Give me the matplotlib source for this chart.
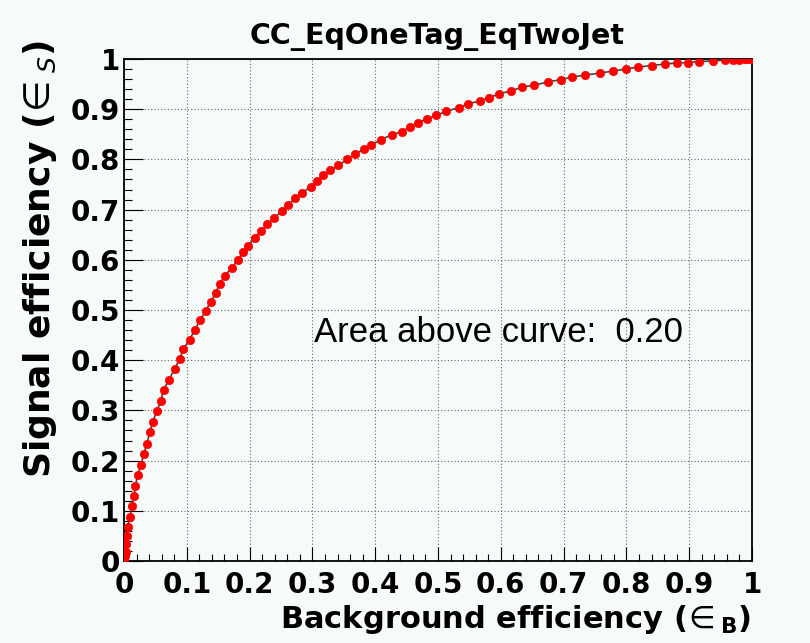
import numpy as np
import matplotlib
matplotlib.use("Agg")
import matplotlib.pyplot as plt
from matplotlib.ticker import MultipleLocator, FuncFormatter

# ROC curve points for the CC_EqOneTag_EqTwoJet category
bkg_eff = [0.000, 0.0016, 0.0027, 0.0037, 0.0043, 0.0059, 0.0095, 0.0127, 0.0159, 0.0180,
           0.0218, 0.0270, 0.0313, 0.0366, 0.0409, 0.0456, 0.0525, 0.0583, 0.0631, 0.0718,
           0.0806, 0.0886, 0.0943, 0.1045, 0.1124, 0.1213, 0.1299, 0.1378, 0.1458, 0.1521,
           0.1606, 0.1712, 0.1817, 0.1897, 0.1982, 0.2083, 0.2183, 0.2285, 0.2396, 0.2517,
           0.2612, 0.2730, 0.2841, 0.2978, 0.3080, 0.3175, 0.3285, 0.3413, 0.3556, 0.3677,
           0.3820, 0.3932, 0.4086, 0.4261, 0.4420, 0.4552, 0.4679, 0.4817, 0.4976, 0.5135,
           0.5330, 0.5474, 0.5665, 0.5808, 0.5967, 0.6169, 0.6343, 0.6534, 0.6746, 0.6952,
           0.7134, 0.7345, 0.7583, 0.7785, 0.7992, 0.8192, 0.8405, 0.8612, 0.8803, 0.8987,
           0.9157, 0.9385, 0.9570, 0.9700, 0.9800, 0.9890, 0.9940, 1.000]
sig_eff = [0.000, 0.009, 0.018, 0.034, 0.050, 0.068, 0.088, 0.110, 0.129, 0.149,
           0.171, 0.191, 0.213, 0.234, 0.256, 0.277, 0.299, 0.319, 0.341, 0.361,
           0.383, 0.402, 0.422, 0.441, 0.460, 0.480, 0.498, 0.516, 0.533, 0.552,
           0.568, 0.584, 0.600, 0.616, 0.628, 0.644, 0.657, 0.671, 0.684, 0.697,
           0.709, 0.723, 0.734, 0.746, 0.757, 0.768, 0.778, 0.788, 0.800, 0.811,
           0.820, 0.828, 0.839, 0.849, 0.855, 0.865, 0.873, 0.880, 0.888, 0.896,
           0.903, 0.911, 0.916, 0.923, 0.930, 0.937, 0.944, 0.948, 0.954, 0.959,
           0.964, 0.968, 0.972, 0.976, 0.980, 0.984, 0.987, 0.990, 0.992, 0.993,
           0.995, 0.996, 0.998, 0.998, 0.999, 1.000, 1.000, 1.000]
area_above = 0.20
title = "CC_EqOneTag_EqTwoJet"

bg = "#f6fbf9"
fig = plt.figure(figsize=(8.1, 6.43), dpi=100, facecolor=bg)
ax = fig.add_axes([124/810, 1-561/643, (752-124)/810, (561-59)/643], facecolor=bg)

ax.plot(bkg_eff, sig_eff, color="#444444", lw=1.2, zorder=3,
        marker="o", ms=6, mfc="red", mec="red", mew=0.5)

ax.set_xlim(0, 1)
ax.set_ylim(0, 1)
ax.xaxis.set_major_locator(MultipleLocator(0.1))
ax.yaxis.set_major_locator(MultipleLocator(0.1))
ax.xaxis.set_minor_locator(MultipleLocator(0.02))
ax.yaxis.set_minor_locator(MultipleLocator(0.02))
fmt = FuncFormatter(lambda v, p: "%g" % round(v, 2))
ax.xaxis.set_major_formatter(fmt)
ax.yaxis.set_major_formatter(fmt)

ax.grid(True, which="major", color="#666666", lw=0.8, ls=(0, (1, 2)))
ax.set_axisbelow(True)

ax.tick_params(axis="both", which="both", direction="in", top=False, right=False,
               width=0.8, colors="black")
ax.tick_params(axis="x", which="major", length=10, pad=7)
ax.tick_params(axis="x", which="minor", length=5)
ax.tick_params(axis="y", which="major", length=13.5, pad=3)
ax.tick_params(axis="y", which="minor", length=6)
for lab in ax.get_xticklabels() + ax.get_yticklabels():
    lab.set_fontsize(20)
    lab.set_fontweight("bold")
for sp in ax.spines.values():
    sp.set_linewidth(1.3)

ax.text(0.302, 0.456, "Area above curve:  %.2f" % area_above, fontsize=25,
        ha="left", va="center", family="Liberation Sans")

fig.text(437/810, 1-37/643, title, fontsize=20.5, fontweight="bold",
         ha="center", va="center")
fig.text(751/810, 15/643, r"Background efficiency (${\!\in}_{\mathbf{B}}$)",
         fontsize=22, fontweight="bold", ha="right", va="baseline")
fig.text(40/810, 1-40/643, r"Signal efficiency (${\!\in}_{S}$)",
         fontsize=26, fontweight="bold", rotation=90, ha="center", va="top")

fig.savefig("out.png", dpi=100, facecolor=bg)
